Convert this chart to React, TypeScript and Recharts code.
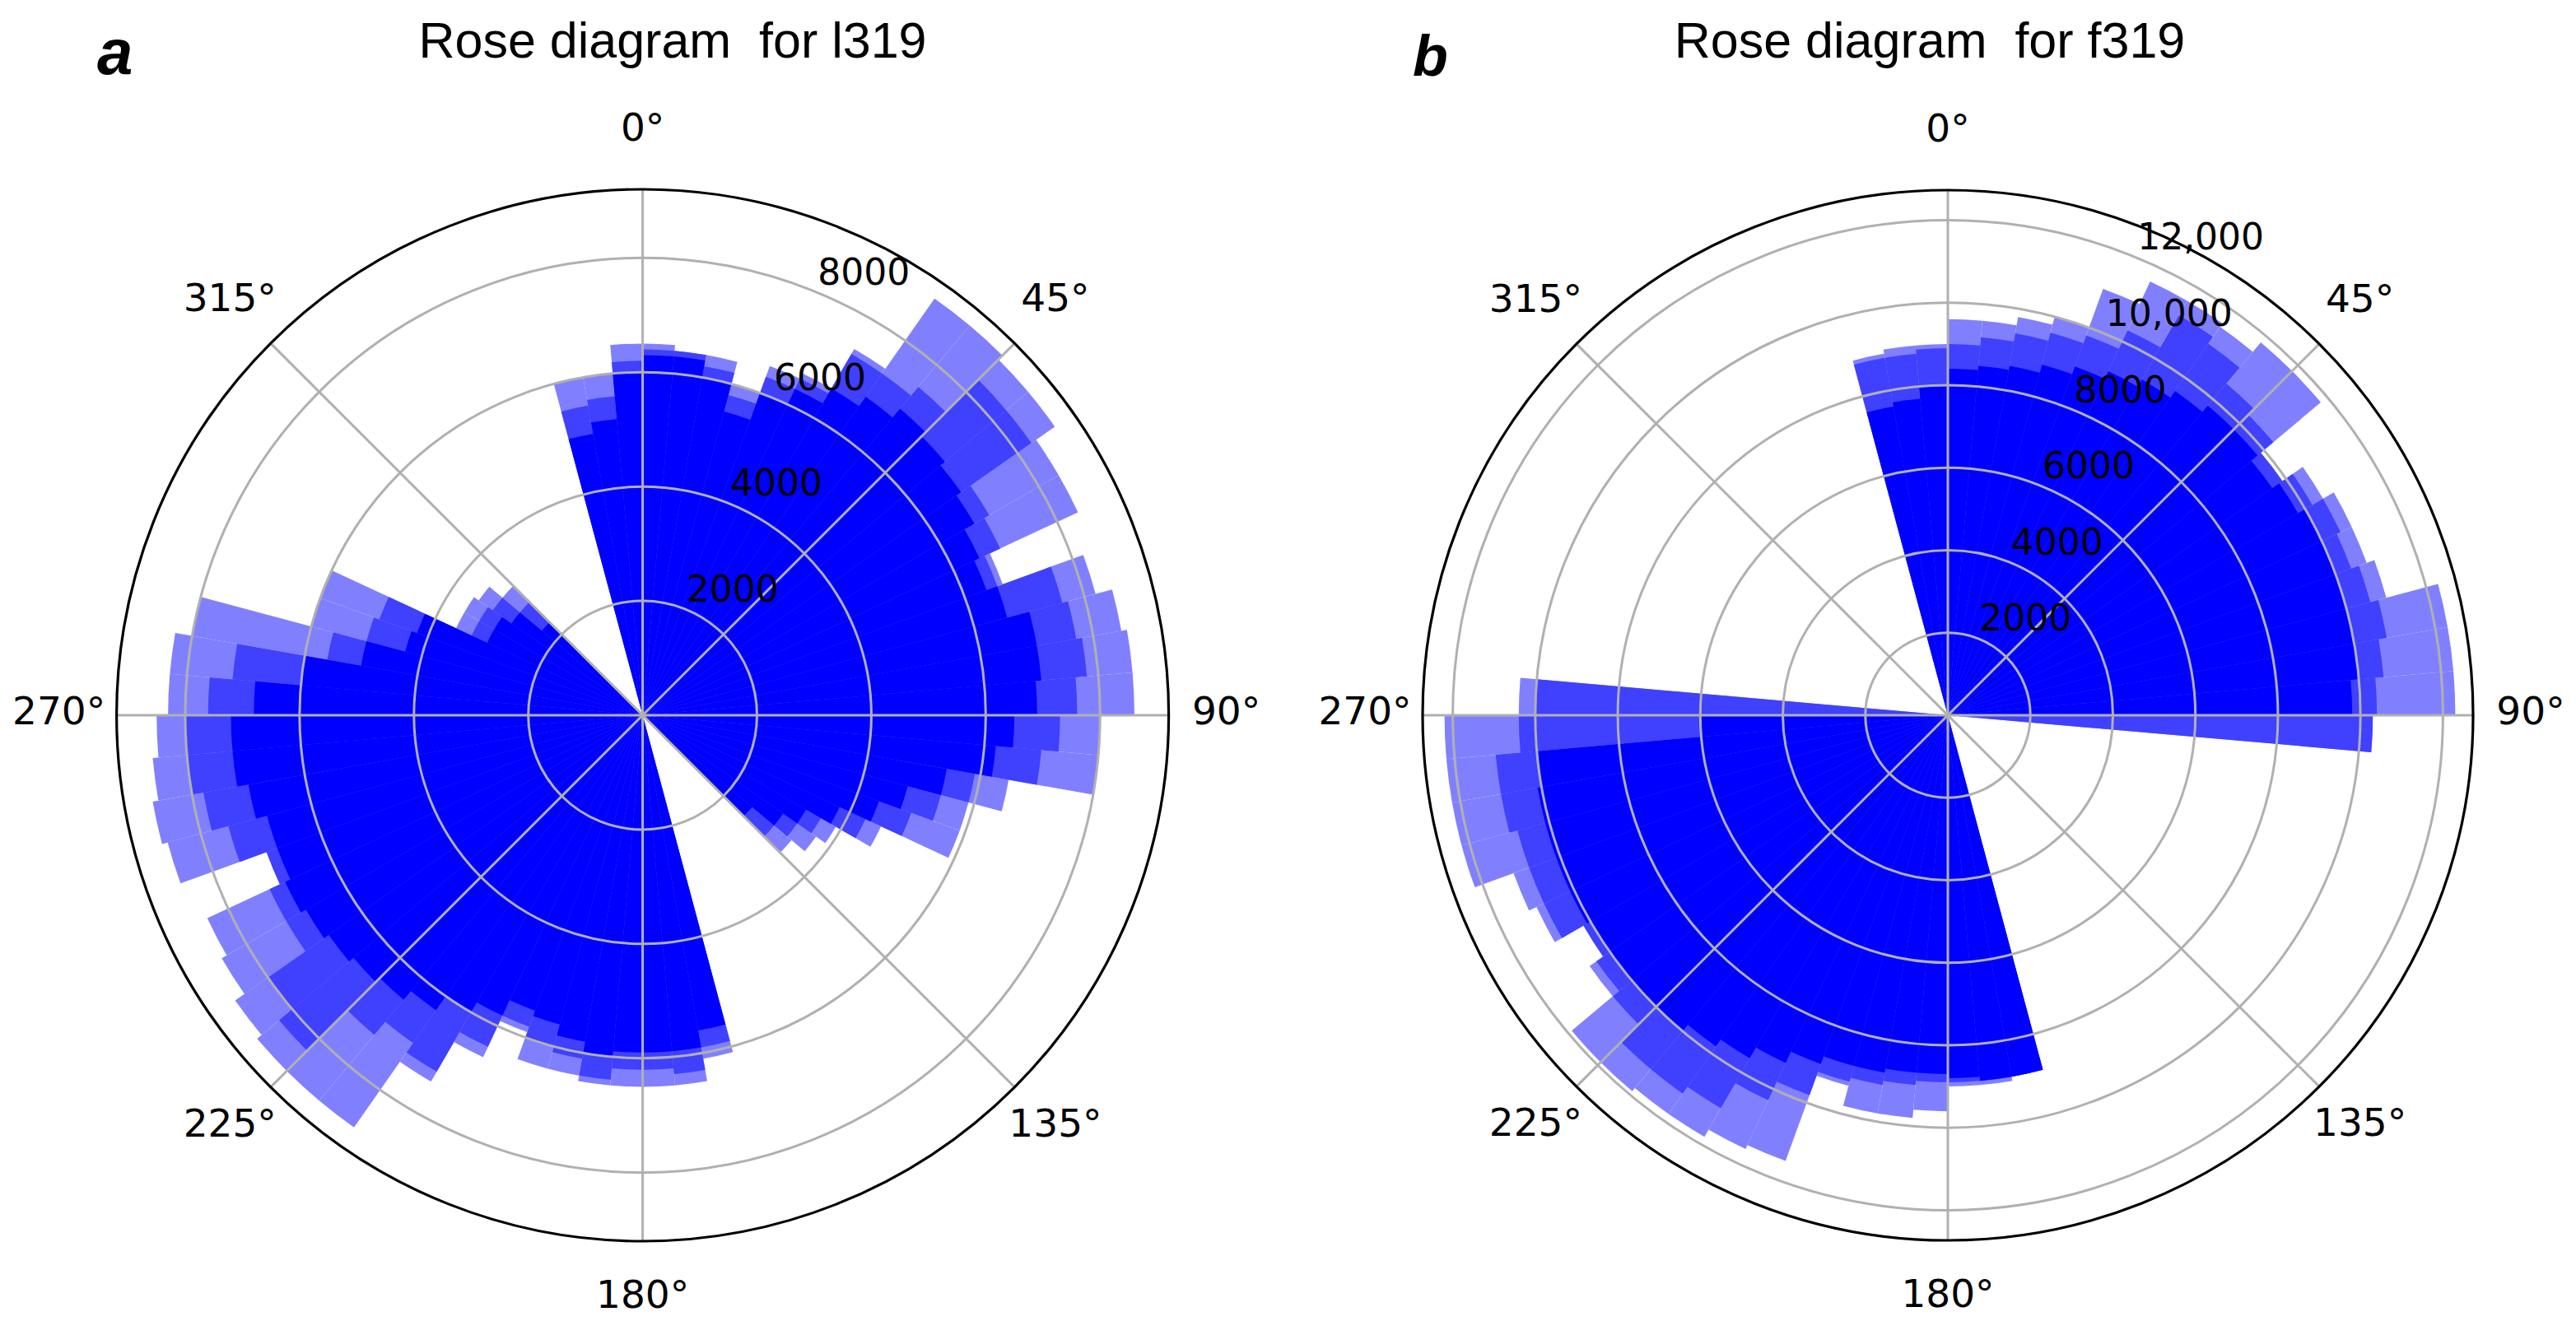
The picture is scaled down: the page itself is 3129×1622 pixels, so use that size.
import React from 'react';
import {
    RadialBarChart,
    RadialBar,
    RadarChart,
    Radar,
    PolarGrid,
    PolarAngleAxis,
    PolarRadiusAxis,
} from 'recharts';

// 5-degree direction bins, clockwise from north
const BINS = [
    0, 5, 10, 15, 20, 25, 30, 35, 40, 45, 50, 55,
    60, 65, 70, 75, 80, 85, 90, 95, 100, 105, 110, 115,
    120, 125, 130, 135, 140, 145, 150, 155, 160, 165, 170, 175,
    180, 185, 190, 195, 200, 205, 210, 215, 220, 225, 230, 235,
    240, 245, 250, 255, 260, 265, 270, 275, 280, 285, 290, 295,
    300, 305, 310, 315, 320, 325, 330, 335, 340, 345, 350, 355,
];

// l319 — densest (overlapped) part, partly overlapped part, outermost reach
const L319_CORE = [
    6000, 6300, 6300, 6000, 5500, 6000, 6300, 6600, 6800, 7000, 6900, 6800,
    6700, 6500, 6400, 6600, 7000, 7000, 6900, 6500, 6200, 5400, 4800, 4400,
    3800, 3300, 3000, 2500, 0, 0, 0, 0, 0, 0, 5600, 5900,
    5900, 5900, 6000, 5800, 5600, 5500, 5800, 6000, 6300, 6500, 6600, 6700,
    6800, 6900, 6800, 6800, 7000, 7200, 7200, 6800, 6000, 5000, 4300, 4200,
    3000, 3000, 2800, 2300, 0, 0, 0, 0, 0, 0, 5000, 5200,
];
const L319_MID = [
    6200, 6400, 6400, 6200, 5800, 6300, 6500, 7300, 7300, 7500, 8300, 8300,
    7000, 6900, 6600, 7600, 7700, 7800, 7600, 7300, 7000, 5900, 5400, 5000,
    4300, 3600, 3300, 3000, 0, 0, 0, 0, 0, 0, 5900, 6300,
    6200, 6200, 6400, 6100, 6000, 5800, 6400, 7200, 7000, 7300, 8300, 8000,
    7200, 7200, 7000, 7500, 7800, 8000, 8000, 7600, 7200, 5600, 5000, 4900,
    3300, 3300, 3200, 2800, 0, 0, 0, 0, 0, 0, 5500, 5600,
];
const L319_OUTER = [
    6500, 6500, 6400, 6400, 6000, 6500, 6600, 7400, 8900, 8900, 8800, 8800,
    8400, 8400, 6700, 8200, 8500, 8600, 8600, 8000, 8000, 6500, 5900, 5900,
    4600, 3900, 3700, 3400, 0, 0, 0, 0, 0, 0, 6100, 6500,
    6500, 6500, 6500, 6400, 6400, 5900, 6600, 7400, 8800, 8800, 8800, 8700,
    8500, 8400, 7000, 8600, 8700, 8600, 8500, 8300, 8300, 8000, 6000, 6000,
    3600, 3600, 3500, 3200, 0, 0, 0, 0, 0, 0, 6000, 6000,
];

// f319
const F319_CORE = [
    8000, 8400, 8500, 8600, 8800, 9000, 9200, 9400, 9600, 9800, 9800, 9600,
    9800, 10000, 10000, 10000, 10000, 10000, 9800, 0, 0, 0, 0, 0,
    0, 0, 0, 0, 0, 0, 0, 0, 0, 0, 8900, 8900,
    8800, 8700, 8700, 8800, 8800, 9000, 9300, 9600, 9800, 10000, 10000, 10000,
    10000, 10100, 10100, 10100, 10100, 10000, 6000, 0, 0, 0, 0, 0,
    0, 0, 0, 0, 0, 0, 0, 0, 0, 0, 7600, 7700,
];
const F319_MID = [
    8900, 9000, 9200, 9400, 9600, 9800, 10300, 11200, 11000, 10500, 10300, 9900,
    10200, 10500, 10400, 10600, 10800, 10600, 10400, 10300, 0, 0, 0, 0,
    0, 0, 0, 0, 0, 0, 0, 0, 0, 0, 8900, 8900,
    8900, 8900, 9000, 9100, 9200, 9800, 10300, 11000, 11200, 11200, 10600, 10400,
    10200, 10800, 10800, 10800, 11000, 11000, 10400, 10000, 0, 0, 0, 0,
    0, 0, 0, 0, 0, 0, 0, 0, 0, 0, 8800, 8800,
];
const F319_OUTER = [
    9000, 9600, 9600, 9800, 10000, 11000, 11600, 11600, 11500, 11800, 11800, 9900,
    10500, 10800, 10800, 11000, 12300, 12300, 12300, 10300, 0, 0, 0, 0,
    0, 0, 0, 0, 0, 0, 0, 0, 0, 0, 8900, 9000,
    9000, 9600, 9800, 9800, 9300, 11500, 11600, 11800, 11800, 11900, 11900, 10600,
    10200, 11000, 11200, 12200, 12200, 12200, 12200, 10400, 0, 0, 0, 0,
    0, 0, 0, 0, 0, 0, 0, 0, 0, 0, 8900, 9000,
];

const DIRECTIONS = ['0°', '45°', '90°', '135°', '180°', '225°', '270°', '315°'];

const L319_TICKS = [2000, 4000, 6000, 8000];
const L319_TICK_TEXT = ['2000', '4000', '6000', '8000'];
const F319_TICKS = [2000, 4000, 6000, 8000, 10000, 12000];
const F319_TICK_TEXT = ['2000', '4000', '6000', '8000', '10,000', '12,000'];

const PANEL_W = 1564;
const PANEL_H = 1622;
const NO_MARGIN = { top: 0, right: 0, bottom: 0, left: 0 };

const SHADES = { outer: '#8080ff', mid: '#4040ff', core: '#0000ff' };

interface Geo {
    cx: number;
    cy: number;
    r: number;
    max: number;
}

const LEFT_GEO: Geo = { cx: 780.6, cy: 869, r: 639, max: 9200 };
const RIGHT_GEO: Geo = { cx: 802, cy: 869, r: 638, max: 12730 };

const layer: React.CSSProperties = { position: 'absolute', left: 0, top: 0 };

function BarLayer({ rows, dataKey, geo }: { rows: any[]; dataKey: 'core' | 'mid' | 'outer'; geo: Geo }) {
    return (
        <div style={layer}>
            <RadialBarChart
                width={PANEL_W}
                height={PANEL_H}
                data={rows}
                layout="centric"
                cx={geo.cx}
                cy={geo.cy}
                innerRadius={0}
                outerRadius={geo.r}
                startAngle={90}
                endAngle={-270}
                barCategoryGap={0}
                barGap={0}
                margin={NO_MARGIN}
            >
                <PolarAngleAxis type="category" dataKey="bin" tick={false} tickLine={false} axisLine={false} />
                <PolarRadiusAxis type="number" domain={[0, geo.max]} tick={false} axisLine={false} />
                <RadialBar dataKey={dataKey} fill={SHADES[dataKey]} stroke="none" isAnimationActive={false} />
            </RadialBarChart>
        </div>
    );
}

function AxesLayer({ geo, ticks, tickText }: { geo: Geo; ticks: number[]; tickText: string[] }) {
    const rows = DIRECTIONS.map((d) => ({ dir: d, none: 0 }));

    const angleTick = (p: any) => (
        <text
            x={p.x}
            y={p.y - 6}
            textAnchor="middle"
            dominantBaseline="central"
            fontFamily="DejaVu Sans"
            fontSize={47}
            fill="#000"
        >
            {p.payload.value}
        </text>
    );

    const radiusTick = (p: any) => {
        const i = ticks.indexOf(p.payload.value);
        return (
            <text x={p.x} y={p.y - 10} textAnchor="start" fontFamily="DejaVu Sans" fontSize={44} fill="#000">
                {i >= 0 ? tickText[i] : ''}
            </text>
        );
    };

    return (
        <div style={layer}>
            <RadarChart
                width={PANEL_W}
                height={PANEL_H}
                data={rows}
                cx={geo.cx}
                cy={geo.cy}
                innerRadius={0}
                outerRadius={geo.r}
                startAngle={90}
                endAngle={-270}
                margin={NO_MARGIN}
            >
                <PolarGrid gridType="circle" stroke="#b0b0b0" strokeWidth={3} />
                <PolarAngleAxis
                    dataKey="dir"
                    tickSize={70}
                    tickLine={false}
                    axisLineType="circle"
                    axisLine={{ stroke: '#000', strokeWidth: 3.2 }}
                    tick={angleTick}
                />
                <PolarRadiusAxis
                    type="number"
                    angle={67.5}
                    domain={[0, geo.max]}
                    ticks={ticks}
                    axisLine={false}
                    tickLine={false}
                    tick={radiusTick}
                />
                <Radar dataKey="none" stroke="none" fill="none" dot={false} isAnimationActive={false} />
            </RadarChart>
        </div>
    );
}

function RosePanel({ left, geo, core, mid, outer, ticks, tickText }: {
    left: number;
    geo: Geo;
    core: number[];
    mid: number[];
    outer: number[];
    ticks: number[];
    tickText: string[];
}) {
    const rows = BINS.map((b, i) => ({ bin: b, core: core[i], mid: mid[i], outer: outer[i] }));
    return (
        <div style={{ position: 'absolute', left, top: 0, width: PANEL_W, height: PANEL_H }}>
            <BarLayer rows={rows} dataKey="outer" geo={geo} />
            <BarLayer rows={rows} dataKey="mid" geo={geo} />
            <BarLayer rows={rows} dataKey="core" geo={geo} />
            <AxesLayer geo={geo} ticks={ticks} tickText={tickText} />
        </div>
    );
}

export default function App() {
    return (
        <div style={{ position: 'absolute', left: 0, top: 0, width: 3129, height: 1622, background: '#fff', overflow: 'hidden' }}>
            <RosePanel left={0} geo={LEFT_GEO} core={L319_CORE} mid={L319_MID} outer={L319_OUTER} ticks={L319_TICKS} tickText={L319_TICK_TEXT} />
            <RosePanel left={1564} geo={RIGHT_GEO} core={F319_CORE} mid={F319_MID} outer={F319_OUTER} ticks={F319_TICKS} tickText={F319_TICK_TEXT} />
            <svg width={3129} height={1622} style={{ position: 'absolute', left: 0, top: 0, pointerEvents: 'none' }}>
                <g fontFamily="Liberation Sans, Arial, sans-serif" fill="#000">
                    <text x={817} y={70} fontSize={61} textAnchor="middle">Rose diagram{'\u00a0'} for l319</text>
                    <text x={2344} y={70} fontSize={61} textAnchor="middle">Rose diagram{'\u00a0'} for f319</text>
                    <text x={118} y={90} fontSize={78} fontWeight="bold" fontStyle="italic">a</text>
                    <text x={1716} y={92} fontSize={70} fontWeight="bold" fontStyle="italic">b</text>
                </g>
            </svg>
        </div>
    );
}
